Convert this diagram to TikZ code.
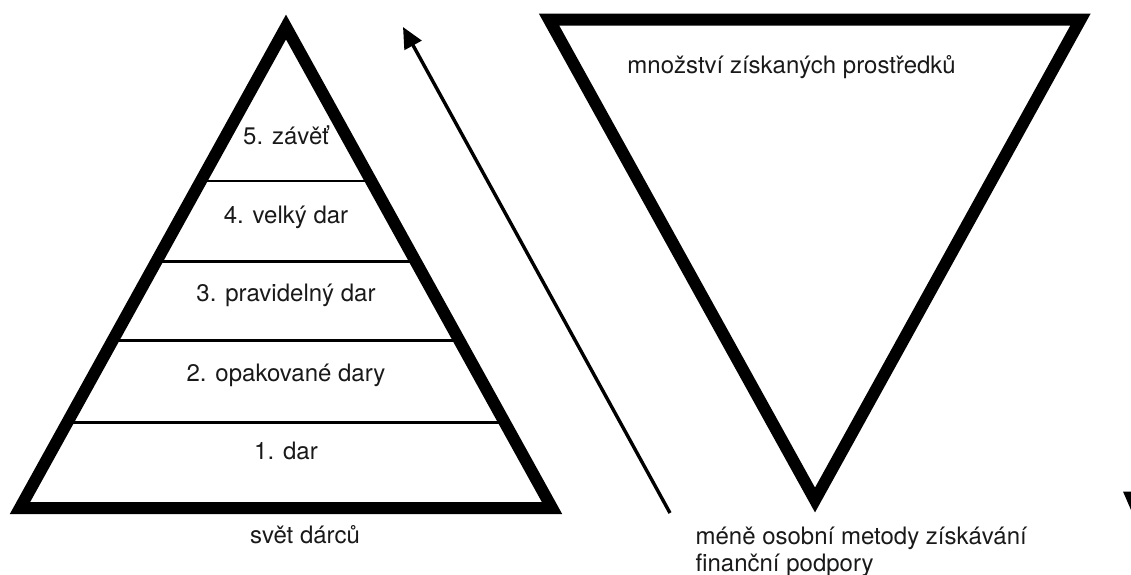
\documentclass[tikz,border=0pt]{standalone}
\usepackage{fontspec}
\setmainfont{TeX Gyre Heros}
\usetikzlibrary{arrows.meta}
\begin{document}
\begin{tikzpicture}[x=1pt,y=-1pt,
  tri/.style={line width=12pt,line join=miter,miter limit=10},
  tier/.style={line width=2.6pt},
  lbl/.style={font=\fontsize{24}{28}\selectfont,inner sep=0pt,anchor=base,text=black!90},
  lblw/.style={lbl,anchor=base west},
  up/.style={line width=3.4pt,-{Triangle[length=21pt,width=19pt]}}]
\useasboundingbox (0,0) rectangle (1131,574);
% pyramid
\coordinate (pA) at (286,27);
\coordinate (pL) at (20,508);
\coordinate (pR) at (552,508);
\foreach \y/\n in {181/a,261.5/b,340.5/c,422.5/d}{
  \draw[tier] ({20+(508-\y)/1.808},\y) coordinate (l\n) -- ({552-(508-\y)/1.808},\y) coordinate (r\n);
}
\draw[tri] (pA) -- (pR) -- (pL) -- cycle;
\node[lbl] (t5) at (286,144) {5. závěť};
\node[lbl] (t4) at (286,223) {4. velký dar};
\node[lbl] (t3) at (286,301) {3. pravidelný dar};
\node[lbl] (t2) at (286,381) {2. opakované dary};
\node[lbl] (t1) at (286,459) {1. dar};
\node[lbl] (svet) at (305,543.5) {svět dárců};
% inverted triangle
\coordinate (iL) at (549,19.5);
\coordinate (iR) at (1080.5,19.5);
\coordinate (iT) at (815,500);
\draw[tri] (iL) -- (iR) -- (iT) -- cycle;
\node[lbl] (mnoz) at (791.5,73) {množství získaných prostředků};
\node[lblw] (mene1) at (695.4,544.6) {méně osobní metody získávání};
\node[lblw] (mene2) at (695.4,571) {finanční podpory};
% arrow
\coordinate (aS) at (670,513);
\coordinate (aE) at (403,27);
\draw[up] (aS) -- (aE);
% cut-off shape at right edge
\fill (1123,491.5) -- (1131,491.5) -- (1131,510) -- cycle;
\end{tikzpicture}
\end{document}
